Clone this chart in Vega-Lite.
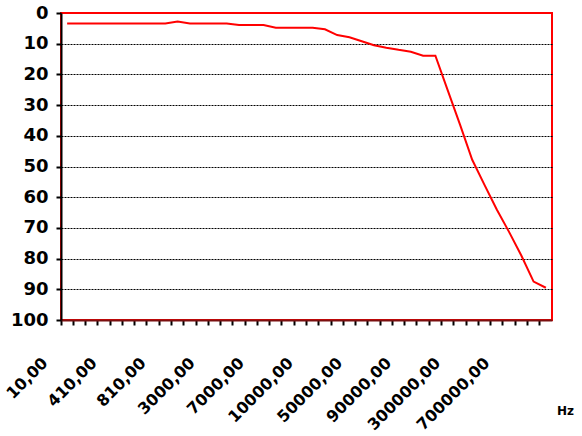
{
  "$schema": "https://vega.github.io/schema/vega-lite/v6.json",
  "autosize": {"type": "none"},
  "padding": {"left": 61, "top": 13, "right": 30, "bottom": 116},
  "width": 491,
  "height": 307,
  "background": "white",
  "view": {"stroke": "#ff0000", "strokeWidth": 2},
  "data": {
    "values": [
      {"hz": "10,00", "db": 3.4},
      {"hz": "110,00", "db": 3.4},
      {"hz": "210,00", "db": 3.4},
      {"hz": "310,00", "db": 3.4},
      {"hz": "410,00", "db": 3.4},
      {"hz": "510,00", "db": 3.4},
      {"hz": "610,00", "db": 3.4},
      {"hz": "710,00", "db": 3.4},
      {"hz": "810,00", "db": 3.4},
      {"hz": "910,00", "db": 2.8},
      {"hz": "1000,00", "db": 3.4},
      {"hz": "2000,00", "db": 3.4},
      {"hz": "3000,00", "db": 3.4},
      {"hz": "4000,00", "db": 3.4},
      {"hz": "5000,00", "db": 3.9},
      {"hz": "6000,00", "db": 3.9},
      {"hz": "7000,00", "db": 3.9},
      {"hz": "8000,00", "db": 4.8},
      {"hz": "9000,00", "db": 4.8},
      {"hz": "9500,00", "db": 4.8},
      {"hz": "10000,00", "db": 4.8},
      {"hz": "20000,00", "db": 5.3},
      {"hz": "30000,00", "db": 7.2},
      {"hz": "40000,00", "db": 7.9},
      {"hz": "50000,00", "db": 9.2},
      {"hz": "60000,00", "db": 10.5},
      {"hz": "70000,00", "db": 11.3},
      {"hz": "80000,00", "db": 12.0},
      {"hz": "90000,00", "db": 12.6},
      {"hz": "100000,00", "db": 13.9},
      {"hz": "200000,00", "db": 13.9},
      {"hz": "250000,00", "db": 25.1},
      {"hz": "300000,00", "db": 36.3},
      {"hz": "400000,00", "db": 47.8},
      {"hz": "500000,00", "db": 56.0},
      {"hz": "600000,00", "db": 64.0},
      {"hz": "700000,00", "db": 71.3},
      {"hz": "800000,00", "db": 79.0},
      {"hz": "900000,00", "db": 87.5},
      {"hz": "1000000,00", "db": 89.5}
    ]
  },
  "mark": {"type": "line", "color": "#ff0000", "strokeWidth": 2},
  "encoding": {
    "x": {
      "field": "hz",
      "type": "ordinal",
      "sort": null,
      "scale": {"type": "band", "paddingInner": 0, "paddingOuter": 0},
      "axis": {
        "bandPosition": 0,
        "title": "Hz",
        "titleX": 504,
        "titleY": 90,
        "titleAlign": "center",
        "titleBaseline": "middle",
        "titleAngle": 0,
        "titleFont": "DejaVu Sans",
        "titleFontSize": 12,
        "titleFontWeight": "bold",
        "titleColor": "black",
        "labelExpr": "indexof(['10,00','410,00','810,00','3000,00','7000,00','10000,00','50000,00','90000,00','300000,00','700000,00'], datum.value) >= 0 ? datum.value : ''",
        "labelAngle": -45,
        "labelAlign": "right",
        "labelBaseline": "middle",
        "labelOffset": -22,
        "labelPadding": 35,
        "labelFont": "DejaVu Sans",
        "labelFontSize": 16,
        "labelFontWeight": "bold",
        "labelColor": "black",
        "labelOverlap": false,
        "labelBound": false,
        "labelLimit": 300,
        "domainColor": "#7a1010",
        "domainWidth": 2,
        "tickColor": "black",
        "tickSize": 5,
        "tickWidth": 2,
        "grid": false
      }
    },
    "y": {
      "field": "db",
      "type": "quantitative",
      "scale": {"domain": [0, 100], "reverse": true, "nice": false},
      "axis": {
        "title": null,
        "values": [0, 10, 20, 30, 40, 50, 60, 70, 80, 90, 100],
        "labelFont": "DejaVu Sans",
        "labelFontSize": 18,
        "labelFontWeight": "bold",
        "labelColor": "black",
        "labelPadding": 8,
        "domainColor": "black",
        "domainWidth": 2,
        "tickColor": "black",
        "tickSize": 5,
        "tickWidth": 2,
        "grid": true,
        "gridColor": "black",
        "gridDash": [2, 1],
        "gridWidth": 1.2,
        "gridOpacity": {"condition": {"test": "datum.value === 0 || datum.value === 100", "value": 0}, "value": 1}
      }
    }
  }
}
